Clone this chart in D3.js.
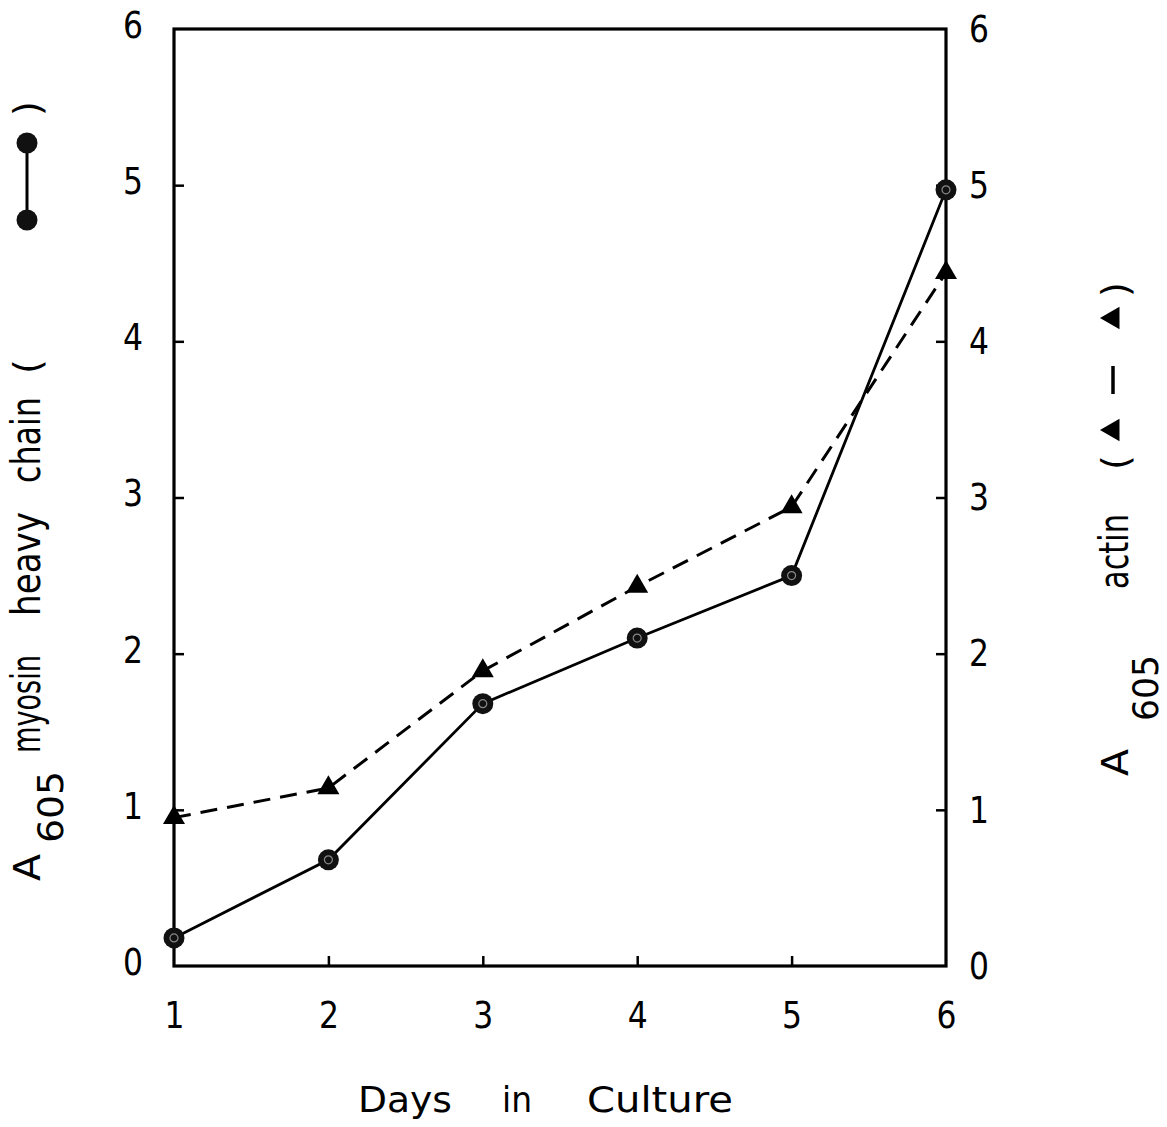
<!DOCTYPE html>
<html>
<head>
<meta charset="utf-8">
<script src="https://cdn.jsdelivr.net/npm/d3@7"></script>
<style>
  html, body { margin: 0; padding: 0; background: #fff; }
  svg { display: block; }
  .lbl { font-family: "DejaVu Sans", "Liberation Sans", sans-serif; fill: #000; }
</style>
</head>
<body>
<script>
// Days in culture and the two A605 readings
const days = [1, 2, 3, 4, 5, 6];
const myosin = [0.18, 0.68, 1.68, 2.10, 2.50, 4.97];
const actin = [0.95, 1.14, 1.89, 2.43, 2.94, 4.44];
const yTicks = [0, 1, 2, 3, 4, 5, 6];
const xTicks = [1, 2, 3, 4, 5, 6];

const W = 1167, H = 1127;
const svg = d3.select("body").append("svg").attr("width", W).attr("height", H);

const x = d3.scaleLinear().domain([1, 6]).range([174, 946]);
const yL = d3.scaleLinear().domain([0, 6]).range([966, 29]);
const yR = d3.scaleLinear().domain([0, 6]).range([966, 29]);

const fontTick = 38;

// axes with inward ticks
const axL = svg.append("g").attr("transform", `translate(${x(1)},0)`)
  .call(d3.axisLeft(yL).tickValues(yTicks).tickFormat(d3.format("d")).tickSizeInner(-10).tickSizeOuter(0).tickPadding(31));
const axR = svg.append("g").attr("transform", `translate(${x(6)},0)`)
  .call(d3.axisRight(yR).tickValues(yTicks).tickFormat(d3.format("d")).tickSizeInner(-10).tickSizeOuter(0).tickPadding(23));
const axB = svg.append("g").attr("transform", `translate(0,${yL(0)})`)
  .call(d3.axisBottom(x).tickValues(xTicks).tickFormat(d3.format("d")).tickSizeInner(-10).tickSizeOuter(0).tickPadding(35));

[axL, axR, axB].forEach(g => {
  g.select(".domain").remove();
  g.selectAll(".tick line").attr("stroke", "#000").attr("stroke-width", 2.5);
  g.selectAll(".tick text").attr("class", "lbl").attr("font-size", fontTick).attr("fill", "#000")
    .attr("textLength", 20).attr("lengthAdjust", "spacingAndGlyphs");
});
axL.selectAll(".tick text").attr("dy", "0.22em");
// no tick marks at the frame corners
axB.selectAll(".tick").filter(d => d === 1 || d === 6).select("line").remove();
axL.selectAll(".tick").filter(d => d === 0 || d === 6).select("line").remove();
axR.selectAll(".tick").filter(d => d === 0 || d === 6).select("line").remove();

// frame
svg.append("rect")
  .attr("x", x(1)).attr("y", yL(6))
  .attr("width", x(6) - x(1)).attr("height", yL(0) - yL(6))
  .attr("fill", "none").attr("stroke", "#000").attr("stroke-width", 3.2);

// actin: dashed line with triangles
const lineA = d3.line().x((d, i) => x(days[i])).y(d => yR(d));
svg.append("path").datum(actin).attr("d", lineA)
  .attr("fill", "none").attr("stroke", "#000").attr("stroke-width", 3)
  .attr("stroke-dasharray", "17,10");

// myosin: solid line with circles
const lineM = d3.line().x((d, i) => x(days[i])).y(d => yL(d));
svg.append("path").datum(myosin).attr("d", lineM)
  .attr("fill", "none").attr("stroke", "#000").attr("stroke-width", 2.8);

const tri = d3.symbol().type(d3.symbolTriangle).size(210);
svg.append("g").selectAll("path").data(actin).join("path")
  .attr("d", tri)
  .attr("transform", (d, i) => `translate(${x(days[i])},${yR(d)})`)
  .attr("fill", "#000");

const dots = svg.append("g").selectAll("g").data(myosin).join("g")
  .attr("transform", (d, i) => `translate(${x(days[i])},${yL(d)})`);
dots.append("circle").attr("r", 10.5).attr("fill", "#111");
dots.append("circle").attr("r", 4).attr("fill", "none").attr("stroke", "#888").attr("stroke-width", 1.2);

// helper: a word fitted to a given run length
function word(g, txt, xPos, yPos, size, len, adjust) {
  const t = g.append("text").attr("class", "lbl")
    .attr("x", xPos).attr("y", yPos).attr("font-size", size).text(txt);
  if (len) t.attr("textLength", len).attr("lengthAdjust", adjust || "spacingAndGlyphs");
  return t;
}

// x-axis title
word(svg, "Days", 358, 1112, 36, 94);
word(svg, "in", 502, 1112, 36, 30);
word(svg, "Culture", 587, 1112, 36, 146);

// left y title, written bottom-to-top
const gl = svg.append("g").attr("transform", "translate(40,0) rotate(-90)");
word(gl, "A", -881, 0, 38, 27);
word(gl, "605", -843, 23, 36, 72);
word(gl, "myosin", -753, 0, 40, 98);
word(gl, "heavy", -616, 0, 40, 104);
word(gl, "chain", -483, 0, 40, 86);
word(gl, "(", -374, 0, 38);
word(gl, ")", -116, 0, 38);
// legend glyph for the myosin series
svg.append("line").attr("x1", 27).attr("x2", 27).attr("y1", 143).attr("y2", 220)
  .attr("stroke", "#000").attr("stroke-width", 3);
[143, 220].forEach(cy => {
  svg.append("circle").attr("cx", 27).attr("cy", cy).attr("r", 10.5).attr("fill", "#111");
});

// right y title
const gr = svg.append("g").attr("transform", "translate(1128,0) rotate(-90)");
word(gr, "A", -776, 0, 38, 27);
word(gr, "605", -721, 30, 36, 66);
word(gr, "actin", -589, 0, 40, 75);
word(gr, "(", -470, 0, 38);
word(gr, ")", -297, 0, 38);
// legend glyph for the actin series: left-pointing triangles with a dash between
const triLeft = d3.symbol().type(d3.symbolTriangle).size(220);
[318, 430].forEach(cy => {
  svg.append("path").attr("d", triLeft)
    .attr("transform", `translate(1113,${cy}) rotate(-90)`).attr("fill", "#000");
});
svg.append("line").attr("x1", 1113).attr("x2", 1113).attr("y1", 366).attr("y2", 394)
  .attr("stroke", "#000").attr("stroke-width", 3.5);
</script>
</body>
</html>
